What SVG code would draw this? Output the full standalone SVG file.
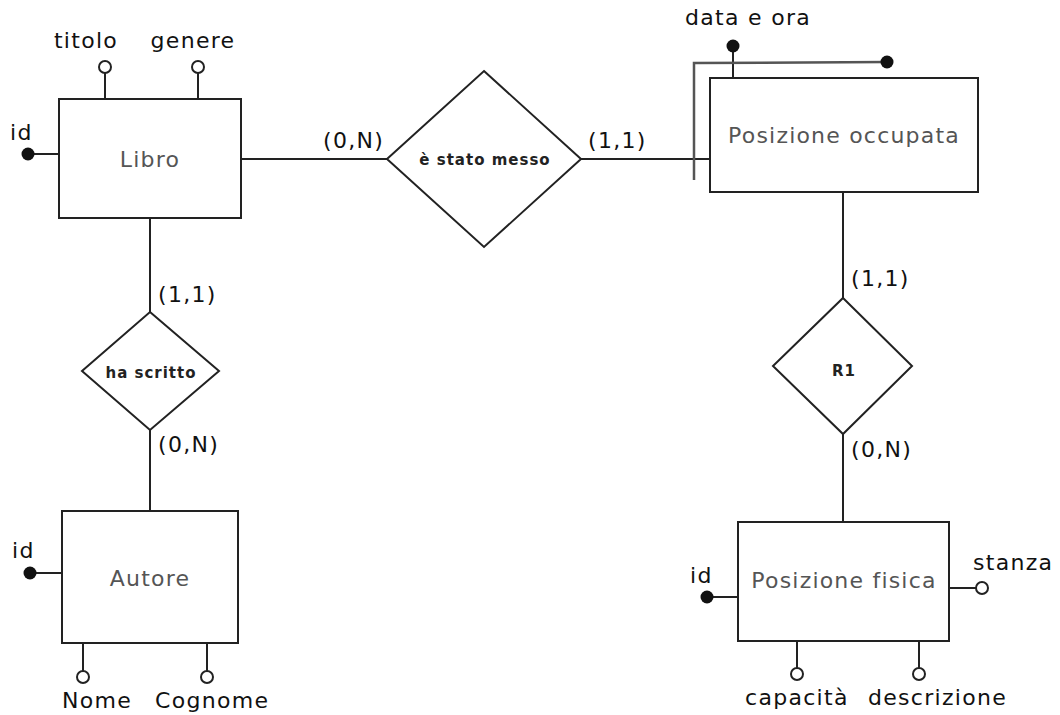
<svg xmlns="http://www.w3.org/2000/svg" width="1060" height="715" viewBox="0 0 1060 715">
<style>
.ent{fill:#fff;stroke:#222;stroke-width:2}
.rel{fill:#fff;stroke:#222;stroke-width:2}
.ln{stroke:#222;stroke-width:2;fill:none}
.en{font-family:"DejaVu Sans",sans-serif;font-size:22px;fill:#555;letter-spacing:1.2px;text-anchor:middle}
.at{font-family:"DejaVu Sans",sans-serif;font-size:22px;fill:#111;letter-spacing:1.3px}
.rl{font-family:"DejaVu Sans",sans-serif;font-size:15px;font-weight:bold;fill:#222;letter-spacing:1px;text-anchor:middle}
.hol{fill:#fff;stroke:#222;stroke-width:2}
.key{fill:#111;stroke:none}
</style>
<rect width="1060" height="715" fill="#fff"/>
<g id="connectors">
<line class="ln" x1="241" y1="159" x2="387" y2="159"/>
<line class="ln" x1="581" y1="159" x2="710" y2="159"/>
<line class="ln" x1="150" y1="218" x2="150" y2="312"/>
<line class="ln" x1="150" y1="430" x2="150" y2="511"/>
<line class="ln" x1="843" y1="192" x2="843" y2="298"/>
<line class="ln" x1="843" y1="434" x2="843" y2="522"/>
<text class="at" x="323" y="148">(0,N)</text>
<text class="at" x="588" y="148">(1,1)</text>
<text class="at" x="158" y="302">(1,1)</text>
<text class="at" x="158" y="452">(0,N)</text>
<text class="at" x="851" y="286">(1,1)</text>
<text class="at" x="851" y="457">(0,N)</text>
</g>
<g id="libro">
<rect class="ent" x="59" y="99" width="182" height="119"/>
<text class="en" x="150" y="167">Libro</text>
<line class="ln" x1="105" y1="99" x2="105" y2="73"/>
<circle class="hol" cx="105" cy="67" r="6"/>
<text class="at" x="86" y="48" text-anchor="middle">titolo</text>
<line class="ln" x1="198" y1="99" x2="198" y2="73"/>
<circle class="hol" cx="198" cy="67" r="6"/>
<text class="at" x="193" y="48" text-anchor="middle">genere</text>
<line class="ln" x1="59" y1="154" x2="28" y2="154"/>
<circle class="key" cx="28" cy="154" r="6.5"/>
<text class="at" x="10" y="140">id</text>
</g>
<g id="stato-messo">
<polygon class="rel" points="484,71 581,159 484,247 387,159"/>
<text class="rl" x="485" y="165">è stato messo</text>
</g>
<g id="posizione-occupata">
<rect class="ent" x="710" y="78" width="268" height="114"/>
<text class="en" x="844" y="143">Posizione occupata</text>
<line class="ln" x1="733" y1="78" x2="733" y2="46"/>
<circle class="key" cx="733" cy="46" r="6.5"/>
<text class="at" x="748" y="25" text-anchor="middle">data e ora</text>
<polyline points="694,180 694,63 887,62" fill="none" stroke="#555" stroke-width="2.5"/>
<circle class="key" cx="887" cy="62" r="6.5"/>
</g>
<g id="ha-scritto">
<polygon class="rel" points="150,312 219,371 150,430 82,371"/>
<text class="rl" x="151" y="378">ha scritto</text>
</g>
<g id="autore">
<rect class="ent" x="62" y="511" width="176" height="132"/>
<text class="en" x="150" y="586">Autore</text>
<line class="ln" x1="62" y1="573" x2="30" y2="573"/>
<circle class="key" cx="30" cy="573" r="6.5"/>
<text class="at" x="12" y="558">id</text>
<line class="ln" x1="83" y1="643" x2="83" y2="671"/>
<circle class="hol" cx="83" cy="677" r="6"/>
<text class="at" x="62" y="708">Nome</text>
<line class="ln" x1="207" y1="643" x2="207" y2="671"/>
<circle class="hol" cx="207" cy="677" r="6"/>
<text class="at" x="155" y="708">Cognome</text>
</g>
<g id="r1">
<polygon class="rel" points="843,298 912,366 843,434 773,366"/>
<text class="rl" x="844" y="376">R1</text>
</g>
<g id="posizione-fisica">
<rect class="ent" x="738" y="522" width="211" height="119"/>
<text class="en" x="844" y="588">Posizione fisica</text>
<line class="ln" x1="738" y1="597" x2="707" y2="597"/>
<circle class="key" cx="707" cy="597" r="6.5"/>
<text class="at" x="690" y="583">id</text>
<line class="ln" x1="949" y1="588" x2="976" y2="588"/>
<circle class="hol" cx="982" cy="588" r="6"/>
<text class="at" x="973" y="570">stanza</text>
<line class="ln" x1="797" y1="641" x2="797" y2="668"/>
<circle class="hol" cx="797" cy="674" r="6"/>
<text class="at" x="745" y="705">capacità</text>
<line class="ln" x1="919" y1="641" x2="919" y2="668"/>
<circle class="hol" cx="919" cy="674" r="6"/>
<text class="at" x="868" y="705">descrizione</text>
</g>
</svg>
